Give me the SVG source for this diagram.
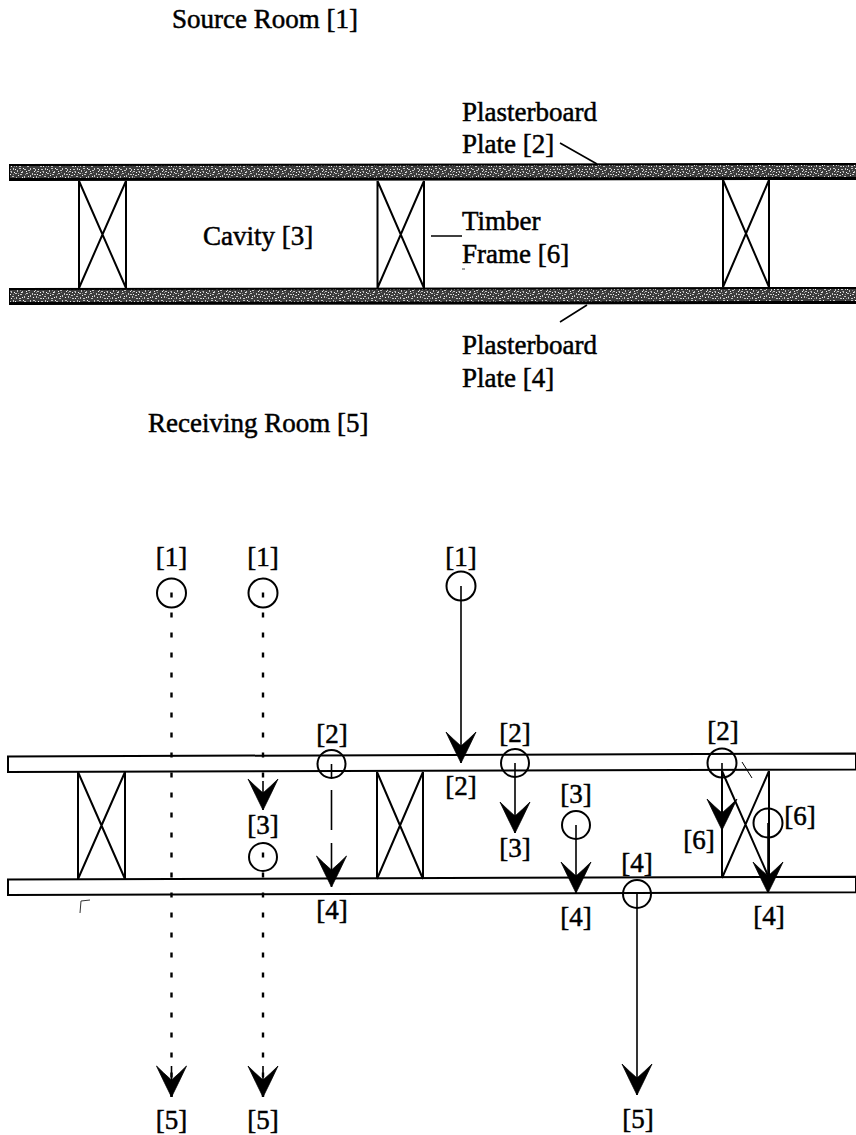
<svg xmlns="http://www.w3.org/2000/svg" width="856" height="1135" viewBox="0 0 856 1135">
<style>
text{font-family:"Liberation Serif","Times New Roman",serif;font-size:27px;fill:#000;stroke:#000;stroke-width:.5}
.m{text-anchor:middle}
.stud{fill:none;stroke:#000;stroke-width:2}
.plate{fill:#fff;stroke:#000;stroke-width:2}
.c{fill:none;stroke:#000;stroke-width:2}
.ln{fill:none;stroke:#000;stroke-width:1.6}
.arr{fill:none;stroke:#000;stroke-width:1.6;marker-end:url(#head)}
.dot{fill:none;stroke:#000;stroke-width:2.4;stroke-dasharray:5 15}
</style>
<defs>
<pattern id="spk" width="32" height="12" patternUnits="userSpaceOnUse">
<rect width="32" height="12" fill="#3c3c3c"/>
<path fill="#c4c4c4" d="M1 0h2v1H1zM3 1h1v2H3zM5 3h2v1H5zM0 5h1v2H0zM2 6h2v1H2zM4 8h1v2H4zM7 7h2v1H7zM9 1h2v1H9zM11 3h1v2h-1zM13 0h1v2h-1zM8 10h2v1H8zM12 8h2v1h-2zM15 5h2v1h-2zM17 2h1v2h-1zM19 0h2v1h-2zM16 9h1v2h-1zM20 6h2v1h-2zM22 3h1v2h-1zM24 1h2v1h-2zM19 10h2v1h-2zM24 8h1v2h-1zM26 5h2v1h-2zM28 2h2v1h-2zM30 0h1v2h-1zM27 10h2v1h-2zM30 7h1v2h-1z"/>
<path fill="#f8f8f8" d="M6 1h1v1H6zM2 3h1v1H2zM8 4h1v1H8zM5 6h1v1H5zM1 9h1v1H1zM10 6h1v1h-1zM14 4h1v1h-1zM15 1h1v1h-1zM11 10h1v1h-1zM18 7h1v1h-1zM21 4h1v1h-1zM22 9h1v1h-1zM26 3h1v1h-1zM28 8h1v1h-1zM23 0h1v1h-1z"/>
<path fill="#8a8a8a" d="M4 4h1v1H4zM6 9h1v1H6zM10 3h1v1h-1zM13 6h1v1h-1zM14 10h1v1h-1zM18 5h1v1h-1zM20 2h1v1h-1zM25 6h1v1h-1zM29 4h1v1h-1z"/>
</pattern>
<marker id="head" markerUnits="userSpaceOnUse" viewBox="0 0 31 30" markerWidth="31" markerHeight="30" refX="31" refY="15" orient="auto" overflow="visible">
<path d="M31 15Q17 8 0 0Q7 7 14 15Q7 23 0 30Q17 22 31 15Z" fill="#000" stroke="#000" stroke-width=".8"/>
</marker>
</defs>

<g id="upper-plate-2">
<polygon points="9,164 856,163 856,180 9,181" fill="#000"/>
<polygon points="10,166 856,165 856,177 10,178" fill="url(#spk)"/>
</g>
<g id="upper-plate-4">
<polygon points="9,288 856,287 856,304 9,305" fill="#000"/>
<polygon points="10,290 856,289 856,301 10,302" fill="url(#spk)"/>
</g>
<g id="upper-stud-1" class="stud"><path d="M79 181V288M126 181V288M79 181L126 288M126 181L79 288"/></g>
<g id="upper-stud-2" class="stud"><path d="M377.500 181V288M424 181V288M377.500 181L424 288M424 181L377.500 288"/></g>
<g id="upper-stud-3" class="stud"><path d="M723 180V287M769 180V287M723 180L769 287M769 180L723 287"/></g>

<g id="lower-plate-2"><polygon class="plate" points="856,753.500 8,756.500 8,772 856,769.500"/></g>
<g id="lower-plate-4"><polygon class="plate" points="856,876.700 8,879.500 8,895 856,892.300"/></g>
<g id="lower-stud-1" class="stud"><path d="M78 772V879M125 772V879M78 772L125 879M125 772L78 879"/></g>
<g id="lower-stud-2" class="stud"><path d="M377 772V879M423 772V879M377 772L423 879M423 772L377 879"/></g>
<g id="lower-stud-3" class="stud"><path d="M722 771V878M769 771V878M722 771L769 878M769 771L722 878"/></g>

<g id="connectors">
<path class="ln" d="M560 143L597 164M560 322L587 305M431 236H462"/>
<path class="dot" d="M171.500 592.500V1097"/>
<path class="dot" d="M263 592.500V780"/>
<path class="dot" d="M263 852.500V1097"/>
<path class="arr" d="M263 781V810"/>
<path class="arr" d="M171.500 1066V1097"/>
<path class="arr" d="M263 1066V1097"/>
<path class="arr" d="M331.500 764V887" stroke-dasharray="13 13 40 13 44"/>
<path class="arr" d="M461 586V763"/>
<path class="arr" d="M515 763V833"/>
<path class="arr" d="M576 825V893"/>
<path class="arr" d="M722 763V830"/>
<path class="arr" d="M768 823V893"/>
<path class="arr" d="M637 894V1095"/>
<path d="M742 762L752 778" fill="none" stroke="#000" stroke-width="1"/>
<path d="M80 913L81 901L90 900" fill="none" stroke="#333" stroke-width="1"/>
<path d="M462 269H465" fill="none" stroke="#444" stroke-width="1"/>
</g>

<g id="event-nodes">
<circle class="c" cx="171.500" cy="593" r="14.500"/>
<circle class="c" cx="263" cy="593" r="14.500"/>
<circle class="c" cx="461" cy="586" r="14.500"/>
<circle class="c" cx="331.500" cy="764" r="14"/>
<circle class="c" cx="263" cy="857" r="14"/>
<circle class="c" cx="515" cy="763" r="14"/>
<circle class="c" cx="722" cy="763" r="14.500"/>
<circle class="c" cx="576" cy="825" r="14"/>
<circle class="c" cx="637" cy="894" r="14"/>
<circle class="c" cx="768" cy="823" r="14.500"/>
</g>

<g id="labels-upper">
<text x="172" y="28">Source Room [1]</text>
<text x="462" y="121">Plasterboard</text>
<text x="462" y="153">Plate [2]</text>
<text x="203" y="245">Cavity [3]</text>
<text x="462" y="230">Timber</text>
<text x="462" y="263">Frame [6]</text>
<text x="462" y="354">Plasterboard</text>
<text x="462" y="387">Plate [4]</text>
<text x="148" y="432">Receiving Room [5]</text>
</g>
<g id="labels-lower">
<text class="m" x="171.500" y="566">[1]</text>
<text class="m" x="263" y="566">[1]</text>
<text class="m" x="461" y="566">[1]</text>
<text class="m" x="332" y="743">[2]</text>
<text class="m" x="515" y="742">[2]</text>
<text class="m" x="723" y="740">[2]</text>
<text class="m" x="461" y="795">[2]</text>
<text class="m" x="263" y="834">[3]</text>
<text class="m" x="576" y="803">[3]</text>
<text class="m" x="515" y="857">[3]</text>
<text class="m" x="332" y="919">[4]</text>
<text class="m" x="576" y="926">[4]</text>
<text class="m" x="769" y="925">[4]</text>
<text class="m" x="637" y="872">[4]</text>
<text class="m" x="699" y="849">[6]</text>
<text class="m" x="800" y="825">[6]</text>
<text class="m" x="171.500" y="1129">[5]</text>
<text class="m" x="263" y="1129">[5]</text>
<text class="m" x="638" y="1128">[5]</text>
</g>
</svg>
